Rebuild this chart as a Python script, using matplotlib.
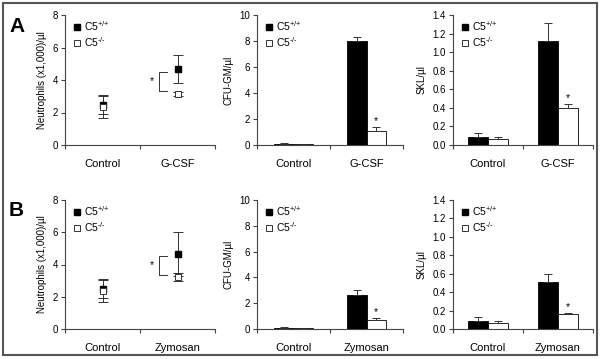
import numpy as np
import matplotlib
matplotlib.use("Agg")
import matplotlib.pyplot as plt
from matplotlib.lines import Line2D
from matplotlib.patches import Rectangle

plt.rcParams['font.family'] = ['Liberation Sans', 'DejaVu Sans']
plt.rcParams['mathtext.fontset'] = 'custom'
plt.rcParams['mathtext.rm'] = 'Liberation Sans'
plt.rcParams['mathtext.default'] = 'regular'

# ---- data ----
groups = [r'C5$^{\text{+/+}}$', r'C5$^{\text{-/-}}$']
cats_a = ['Control', 'G-CSF']
cats_b = ['Control', 'Zymosan']

# neutrophils (x1,000)/ul : mean, sd  [Control, treatment]
neut_a_wt = [2.45, 4.68]
neut_a_wt_err = [0.55, 0.85]
neut_a_ko = [2.35, 3.12]
neut_a_ko_err = [0.70, 0.12]
neut_b_wt = [2.50, 4.65]
neut_b_wt_err = [0.60, 1.35]
neut_b_ko = [2.35, 3.25]
neut_b_ko_err = [0.70, 0.25]

# CFU-GM/ul
cfu_a_wt = [0.10, 8.00]
cfu_a_wt_err = [0.03, 0.32]
cfu_a_ko = [0.08, 1.10]
cfu_a_ko_err = [0.02, 0.28]
cfu_b_wt = [0.08, 2.63]
cfu_b_wt_err = [0.04, 0.40]
cfu_b_ko = [0.06, 0.68]
cfu_b_ko_err = [0.02, 0.16]

# SKL/ul
skl_a_wt = [0.09, 1.12]
skl_a_wt_err = [0.035, 0.19]
skl_a_ko = [0.065, 0.40]
skl_a_ko_err = [0.02, 0.04]
skl_b_wt = [0.09, 0.51]
skl_b_wt_err = [0.035, 0.09]
skl_b_ko = [0.065, 0.16]
skl_b_ko_err = [0.02, 0.01]

W, H = 601, 359
fig = plt.figure(figsize=(W / 100, H / 100), dpi=100)


def px_axes(x0, x1, ytop, ybot):
    return fig.add_axes([x0 / W, 1 - ybot / H, (x1 - x0) / W, (ybot - ytop) / H])


def style_axes(ax, cats, ymax, yticks, fmt):
    for s in ['top', 'right']:
        ax.spines[s].set_visible(False)
    for s in ['left', 'bottom']:
        ax.spines[s].set_color('#444444')
        ax.spines[s].set_linewidth(0.8)
    ax.set_xlim(-0.5, 1.5)
    ax.set_ylim(0, ymax)
    ax.set_yticks(yticks)
    ax.set_yticklabels([fmt.format(t) for t in yticks])
    ax.set_xticks([-0.5, 0.5, 1.5])
    ax.set_xticklabels([])
    ax.set_xticks([0, 1], minor=True)
    ax.set_xticklabels(cats, minor=True, fontsize=8)
    ax.tick_params(axis='x', which='major', direction='out', length=3,
                   color='#444444', width=0.8)
    ax.tick_params(axis='x', which='minor', length=0, pad=10)
    ax.tick_params(axis='y', direction='out', length=3, color='#444444',
                   width=0.8, labelsize=7, pad=2)
    ax.patch.set_alpha(0)


def add_legend(ax):
    h = [Line2D([], [], ls='none', marker='s', ms=4, mfc='black', mec='black'),
         Line2D([], [], ls='none', marker='s', ms=4, mfc='white', mec='#333333',
                mew=0.7)]
    ax.legend(h, groups, loc='upper left', bbox_to_anchor=(0.06, 0.97),
              frameon=False, fontsize=7.5, handlelength=0.6, handletextpad=0.4,
              labelspacing=0.2, borderpad=0, borderaxespad=0)


def neut_panel(ax, cats, wt, wt_err, ko, ko_err, brk_top, brk_bot):
    x = np.arange(len(cats))
    ax.errorbar(x, wt, yerr=wt_err, fmt='s', ms=4.5, mfc='black', mec='black',
                ecolor='#333333', elinewidth=0.7, capsize=3.5, capthick=0.7)
    ax.errorbar(x, ko, yerr=ko_err, fmt='s', ms=4.5, mfc='white', mec='#333333',
                mew=0.7, ecolor='#333333', elinewidth=0.7, capsize=3.5, capthick=0.7)
    # significance bracket
    ax.plot([0.86, 0.753, 0.753, 0.86], [brk_top, brk_top, brk_bot, brk_bot],
            color='#333333', lw=0.7)
    ax.text(0.66, (brk_top + brk_bot) / 2, '*', ha='center', va='center',
            fontsize=7.5)
    style_axes(ax, cats, 8, [0, 2, 4, 6, 8], '{:.0f}')
    ax.set_ylabel('Neutrophils (x1,000)/µl', fontsize=7, labelpad=4)
    add_legend(ax)


def bar_panel(ax, cats, wt, wt_err, ko, ko_err, ymax, yticks, fmt, ylabel, bw):
    x = np.arange(len(cats))
    ax.bar(x - bw / 2, wt, bw, color='black', edgecolor='black', lw=0.6)
    ax.bar(x + bw / 2, ko, bw, color='white', edgecolor='black', lw=0.6)
    ax.errorbar(x - bw / 2, wt, yerr=[np.zeros(len(wt)), wt_err], fmt='none',
                ecolor='#333333', elinewidth=0.7, capsize=3, capthick=0.7)
    ax.errorbar(x + bw / 2, ko, yerr=[np.zeros(len(ko)), ko_err], fmt='none',
                ecolor='#333333', elinewidth=0.7, capsize=3, capthick=0.7)
    ax.annotate('*', xy=(1 + bw / 2, ko[1] + ko_err[1]), xytext=(0, 1),
                textcoords='offset points', ha='center', va='bottom', fontsize=7.5)
    style_axes(ax, cats, ymax, yticks, fmt)
    ax.set_ylabel(ylabel, fontsize=7, labelpad=4)
    add_legend(ax)


rows = [
    (15, 145, cats_a,
     (neut_a_wt, neut_a_wt_err, neut_a_ko, neut_a_ko_err, 4.5, 3.35),
     (cfu_a_wt, cfu_a_wt_err, cfu_a_ko, cfu_a_ko_err),
     (skl_a_wt, skl_a_wt_err, skl_a_ko, skl_a_ko_err), 'A'),
    (200, 329, cats_b,
     (neut_b_wt, neut_b_wt_err, neut_b_ko, neut_b_ko_err, 4.55, 3.37),
     (cfu_b_wt, cfu_b_wt_err, cfu_b_ko, cfu_b_ko_err),
     (skl_b_wt, skl_b_wt_err, skl_b_ko, skl_b_ko_err), 'B'),
]

for ytop, ybot, cats, nd, cd, sd, letter in rows:
    ax1 = px_axes(65, 215, ytop, ybot)
    neut_panel(ax1, cats, *nd)
    ax2 = px_axes(257, 403, ytop, ybot)
    bar_panel(ax2, cats, *cd, 10, [0, 2, 4, 6, 8, 10], '{:.0f}', 'CFU-GM/µl', 0.27)
    ax3 = px_axes(453, 593, ytop, ybot)
    bar_panel(ax3, cats, *sd, 1.4, [0, 0.2, 0.4, 0.6, 0.8, 1.0, 1.2, 1.4], '{:.1f}',
              'SKL/µl', 0.29)
    fig.text(9 / W, 1 - (ytop + 11) / H, letter, fontsize=15, fontweight='bold',
             va='center', ha='left')

# outer frame
fig.patches.append(Rectangle((3 / W, 4 / H), 594 / W, 352 / H, transform=fig.transFigure,
                             fill=False, edgecolor='#555555', lw=1.5))

fig.savefig('out.png', dpi=100)
